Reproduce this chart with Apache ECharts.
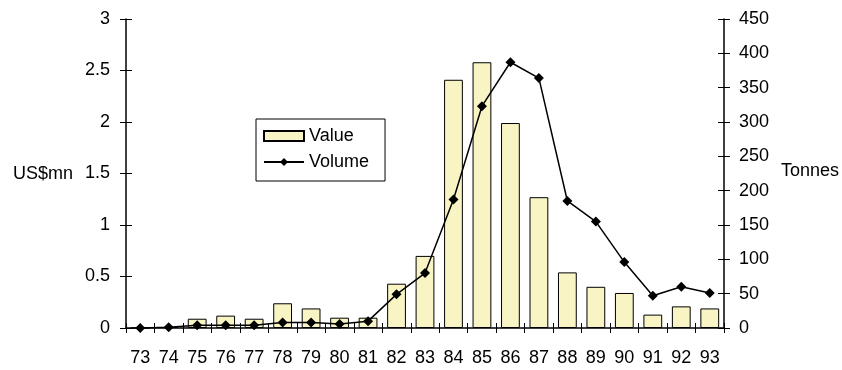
<!DOCTYPE html>
<html><head><meta charset="utf-8">
<script src="https://cdn.jsdelivr.net/npm/echarts@6/dist/echarts.min.js"></script>
<style>html,body{margin:0;padding:0;background:#fff}#c{width:842px;height:370px}</style>
</head><body><div id="c"></div>
<script>
var categories = ['73','74','75','76','77','78','79','80','81','82','83','84','85','86','87','88','89','90','91','92','93'];
var valueUSmn = [0, 0.01, 0.09, 0.12, 0.09, 0.24, 0.19, 0.10, 0.10, 0.43, 0.70, 2.41, 2.58, 1.99, 1.27, 0.54, 0.40, 0.34, 0.13, 0.21, 0.19];
var volumeTonnes = [0, 1, 4, 4, 4, 8, 8, 6, 10, 49, 80, 187, 323, 387, 364, 185, 155, 96, 47, 60, 51];
var leftTicks = [0, 0.5, 1, 1.5, 2, 2.5, 3];
var rightTicks = [0, 50, 100, 150, 200, 250, 300, 350, 400, 450];

var font = 'Liberation Sans, Arial, sans-serif';
var fs = 18;
var chart = echarts.init(document.getElementById('c'));

function tickOnlyY(min, max, interval, pos) {
  return {
    type: 'value', min: min, max: max, interval: interval, position: pos,
    axisLine: {show: false},
    axisTick: {show: true, inside: true, length: 6, lineStyle: {color: '#000'}},
    axisLabel: {show: false}, splitLine: {show: false}
  };
}

chart.setOption({
  animation: false,
  textStyle: {fontFamily: font},
  grid: {left: 126, right: 118, top: 19, bottom: 42},
  legend: {
    orient: 'vertical', left: 256, top: 119, padding: [8, 16, 10, 7],
    borderColor: '#000', borderWidth: 1, itemGap: 8, itemWidth: 40, itemHeight: 10,
    textStyle: {fontSize: fs, color: '#000', fontFamily: font},
    data: [{name: 'Value', icon: 'rect'}, {name: 'Volume'}]
  },
  xAxis: [{
    type: 'category', data: categories,
    axisLine: {lineStyle: {color: '#000', width: 1.5}},
    axisTick: {show: true, length: 5, lineStyle: {color: '#000'}},
    axisLabel: {color: '#000', fontSize: fs, margin: 21, interval: 0, fontFamily: font}
  }, {
    type: 'category', data: categories, position: 'bottom',
    axisLine: {show: false},
    axisTick: {show: true, inside: true, length: 5, lineStyle: {color: '#000'}},
    axisLabel: {show: false}
  }],
  yAxis: [{
    type: 'value', min: 0, max: 3, interval: 0.5,
    axisLine: {show: true, lineStyle: {color: '#000', width: 1.5}},
    axisTick: {show: true, length: 6, lineStyle: {color: '#000'}},
    axisLabel: {color: '#000', fontSize: fs, margin: 16, fontFamily: font,
      formatter: function (v) { return leftTicks.indexOf(v) >= 0 ? String(v) : ''; }},
    splitLine: {show: false}
  }, {
    type: 'value', min: 0, max: 450, interval: 50, position: 'right',
    axisLine: {show: true, lineStyle: {color: '#000', width: 1.5}},
    axisTick: {show: true, length: 6, lineStyle: {color: '#000'}},
    axisLabel: {color: '#000', fontSize: fs, margin: 15, fontFamily: font,
      formatter: function (v) { return rightTicks.indexOf(v) >= 0 ? String(v) : ''; }},
    splitLine: {show: false}
  },
  tickOnlyY(0, 3, 0.5, 'left'),
  tickOnlyY(0, 450, 50, 'right')
  ],
  graphic: [
    {type: 'text', left: 13, top: 165, style: {text: 'US$mn', fontSize: fs, fill: '#000', fontFamily: font}},
    {type: 'text', left: 781, top: 162, style: {text: 'Tonnes', fontSize: fs, fill: '#000', fontFamily: font}}
  ],
  series: [{
    name: 'Value', type: 'bar', data: valueUSmn, yAxisIndex: 0, barCategoryGap: '34%',
    itemStyle: {color: '#f8f4c4', borderColor: '#000', borderWidth: 1}
  }, {
    name: 'Volume', type: 'line', data: volumeTonnes, yAxisIndex: 1,
    symbol: 'diamond', symbolSize: 10, showSymbol: true,
    lineStyle: {color: '#000', width: 1.5}, itemStyle: {color: '#000'}
  }]
});
</script></body></html>
